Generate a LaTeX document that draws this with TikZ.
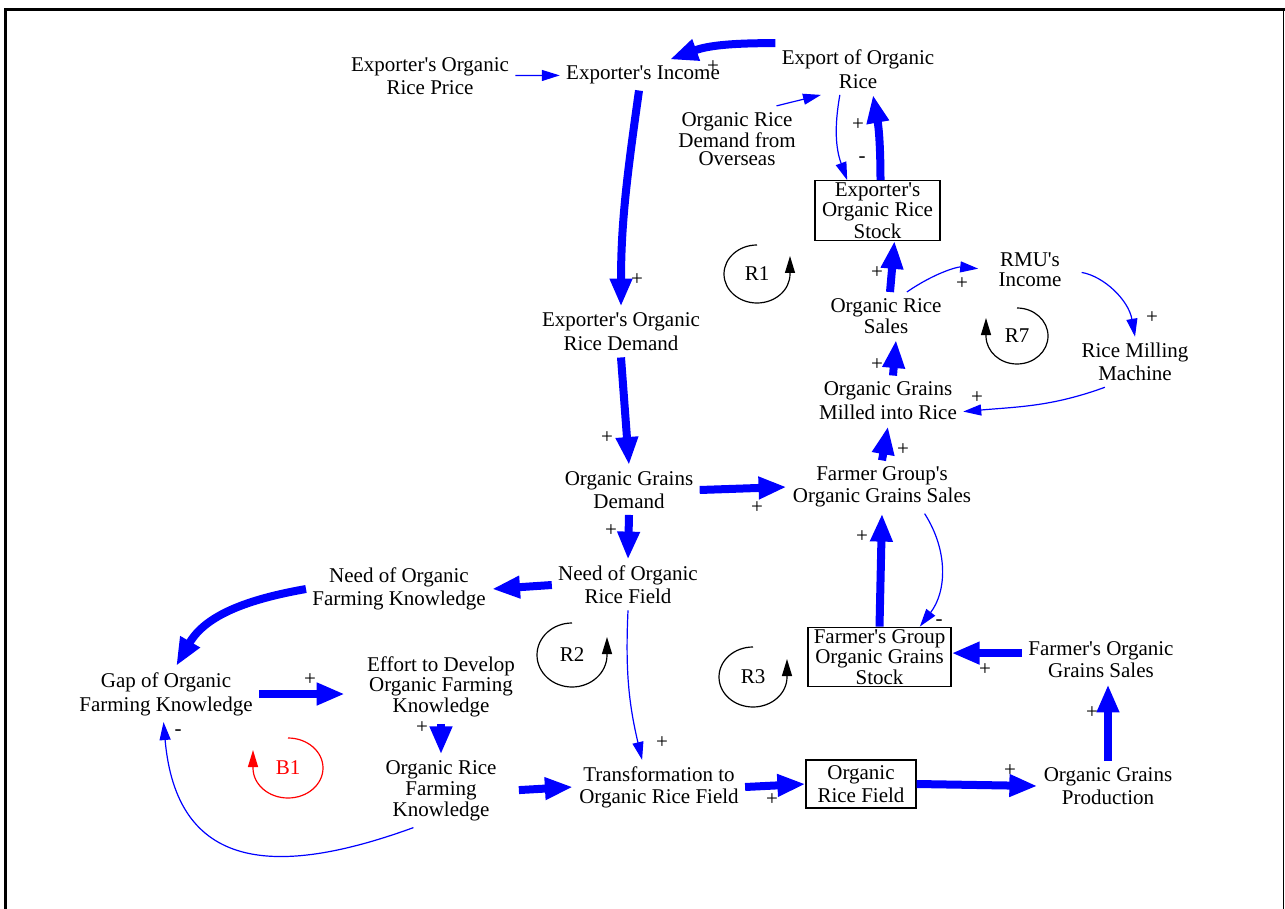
\documentclass[tikz,border=0pt]{standalone}
\usepackage{fontspec}
\setmainfont{Liberation Serif}[Ligatures=TeXOff]
\usetikzlibrary{arrows.meta}

\begin{document}
\begin{tikzpicture}[x=0.5pt, y=0.5pt,
    every node/.style={font=\fontsize{10.5}{11.5}\selectfont},
    var/.style={align=center, inner sep=3pt},
    lead/.style={font=\fontsize{10.5}{#1}\selectfont},
    stock/.style={draw, line width=0.6pt, align=center, inner sep=1pt, lead=9pt},
    sgn/.style={inner sep=0pt},
    big/.style={draw=blue, line width=4pt, -{Triangle[length=14pt,width=10.5pt]}},
    lnk/.style={draw=blue, line width=0.6pt, -{Triangle[length=9pt,width=5.5pt]}},
    fbl/.style={line width=0.6pt, -{Triangle[length=8.5pt,width=5pt]}}]
    \useasboundingbox (0,0) rectangle (1285,-909);

    % cornice
    \draw[line width=1.5pt] (5,-909) -- (5,-10) -- (1285,-10);
    \draw[line width=0.5pt] (1283,-10) -- (1283,-909);

    % esportatore
    \node[var] (price) at (430,-76) {Exporter's Organic\\Rice Price};
    \node[var] (income) at (643,-75) {Exporter's Income};
    \node[var, lead=12pt] (export) at (858,-69) {Export of Organic\\Rice};
    \node[var, lead=9pt] (overseas) at (737,-139) {Organic Rice\\Demand from\\Overseas};
    \node[stock, minimum width=62.5pt, minimum height=29.5pt] (xstock) at (877.5,-210.5) {Exporter's\\Organic Rice\\Stock};
    \node[var, lead=12pt] (xdemand) at (621,-332) {Exporter's Organic\\Rice Demand};

    % RMU
    \node[var, lead=9.5pt] (sales) at (886,-316) {Organic Rice\\Sales};
    \node[var, lead=10pt] (rmu) at (1030,-270) {RMU's\\Income};
    \node[var] (machine) at (1135,-362) {Rice Milling\\Machine};
    \node[var, lead=12pt] (milled) at (888,-401) {Organic Grains\\Milled into Rice};

    % gruppo di agricoltori
    \node[var] (gdemand) at (629,-490) {Organic Grains\\Demand};
    \node[var, lead=11pt] (fgsales) at (882,-487) {Farmer Group's\\Organic Grains Sales};
    \node[stock, minimum width=71.5pt, minimum height=29pt] (fgstock) at (879.5,-657) {Farmer's Group\\Organic Grains\\Stock};
    \node[var, lead=11pt] (fsales) at (1101,-660) {Farmer's Organic\\Grains Sales};
    \node[var] (gprod) at (1108,-786) {Organic Grains\\Production};

    % campi e conoscenza
    \node[var] (needfield) at (628,-585) {Need of Organic\\Rice Field};
    \node[var] (needknow) at (399,-589) {Need of Organic\\Farming Knowledge};
    \node[var, lead=12pt] (gap) at (166,-694) {Gap of Organic\\Farming Knowledge};
    \node[var, lead=8.5pt] (effort) at (441,-687) {Effort to Develop\\Organic Farming\\Knowledge};
    \node[var, lead=10.5pt] (orfk) at (441,-791) {Organic Rice\\Farming\\Knowledge};
    \node[var, lead=11pt] (transf) at (659,-787) {Transformation to\\Organic Rice Field};
    \node[stock, lead=11.5pt, minimum width=55pt, minimum height=24pt] (field) at (861,-784) {Organic\\Rice Field};

    % collegamenti
    \draw[lnk] (price) -- (income);
    \draw[big] (export.north west) to[out=180, in=20] (income.30);
    \draw[lnk] (overseas.40) -- (export.215);
    \draw[lnk] (export.235) to[bend right=15] (xstock.135);
    \draw[big] ([xshift=1.5pt]xstock.north) to[bend right=5] (export.-60);
    \draw[big] ([xshift=-2pt]income.south) to[out=-98, in=90] (xdemand.north);
    \draw[big] (xdemand.south) -- (gdemand.north);
    \draw[big] (gdemand.east) -- (fgsales.west);
    \draw[big] (gdemand.south) -- (needfield.north);
    \draw[big] (needfield.west) -- (needknow.east);
    \draw[big] (needknow.west) to[out=190, in=60] (gap.70);
    \draw[big, shorten >=8pt] (gap.east) -- (gap.east -| effort.west);
    \draw[big] (effort.south) -- (orfk.north);
    \draw[lnk] (orfk.233) to[out=200, in=-85, looseness=1.4] (gap.265);
    \draw[lnk] (needfield.south) to[bend right=8] (transf.122);
    \draw[big, shorten <=8pt] (orfk.east) -- (transf.west);
    \draw[big] (transf.east) -- (field.west);
    \draw[big] (field.east) -- (gprod.west);
    \draw[big] (gprod.north) -- (gprod.north |- fsales.south);
    \draw[big] (fsales.175) -- (fsales.175 -| fgstock.east);
    \draw[big] (fgstock.north) -- (fgsales.south);
    \draw[lnk] (fgsales.-32) to[bend left=35] (fgstock.37);
    \draw[big] (fgsales.north) -- (milled.south);
    \draw[big] ([xshift=2.5pt]milled.north) -- ([xshift=5pt]sales.south);
    \draw[big] ([xshift=2pt]sales.north) -- ([xshift=8.5pt]xstock.south);
    \draw[lnk, shorten >=7pt] (sales.49) to[bend left=20] (rmu.west);
    \draw[lnk, shorten <=7pt] (rmu.east) to[out=-10, in=100] (machine.north);
    \draw[lnk] (machine.220) to[out=200, in=5] (milled.-8);

    % polarita
    \node[sgn] (s1) at (713,-67) {+};
    \node[sgn] (s2) at (858,-125) {+};
    \node[sgn] (s3) at (862,-160) {-};
    \node[sgn] (s4) at (637,-280) {+};
    \node[sgn] (s5) at (607,-438) {+};
    \node[sgn] (s6) at (757,-508) {+};
    \node[sgn] (s7) at (611,-531) {+};
    \node[sgn] (s8) at (310,-680) {+};
    \node[sgn] (s9) at (422,-728) {+};
    \node[sgn] (s10) at (178,-733) {-};
    \node[sgn] (s11) at (662,-743) {+};
    \node[sgn] (s12) at (772,-800) {+};
    \node[sgn] (s13) at (1010,-771) {+};
    \node[sgn] (s14) at (1092,-713) {+};
    \node[sgn] (s15) at (985,-670) {+};
    \node[sgn] (s16) at (862,-537) {+};
    \node[sgn] (s17) at (939,-623) {-};
    \node[sgn] (s18) at (903,-450) {+};
    \node[sgn] (s19) at (877,-365) {+};
    \node[sgn] (s20) at (877,-273) {+};
    \node[sgn] (s21) at (962,-284) {+};
    \node[sgn] (s22) at (1152,-318) {+};
    \node[sgn] (s23) at (977,-398) {+};

    % anelli
    \node (r1) at (757,-274) {R1};
    \draw[fbl] ([yshift=14.5pt]r1.center) arc[start angle=90, end angle=360, x radius=16.5pt, y radius=14.5pt] -- ++(0,18);
    \node (r7) at (1017,-336) {R7};
    \draw[fbl] ([yshift=14pt]r7.center) arc[start angle=90, end angle=-180, x radius=15.5pt, y radius=14pt] -- ++(0,18);
    \node (r2) at (572,-655) {R2};
    \draw[fbl] ([yshift=16pt]r2.center) arc[start angle=90, end angle=360, x radius=17.5pt, y radius=16pt] -- ++(0,18);
    \node (r3) at (753,-677) {R3};
    \draw[fbl] ([yshift=15pt]r3.center) arc[start angle=90, end angle=360, x radius=17pt, y radius=15pt] -- ++(0,18);
    \node[red] (b1) at (288,-768) {B1};
    \draw[fbl, red] ([yshift=15pt]b1.center) arc[start angle=90, end angle=-180, x radius=17.5pt, y radius=15pt] -- ++(0,18);
\end{tikzpicture}
\end{document}
